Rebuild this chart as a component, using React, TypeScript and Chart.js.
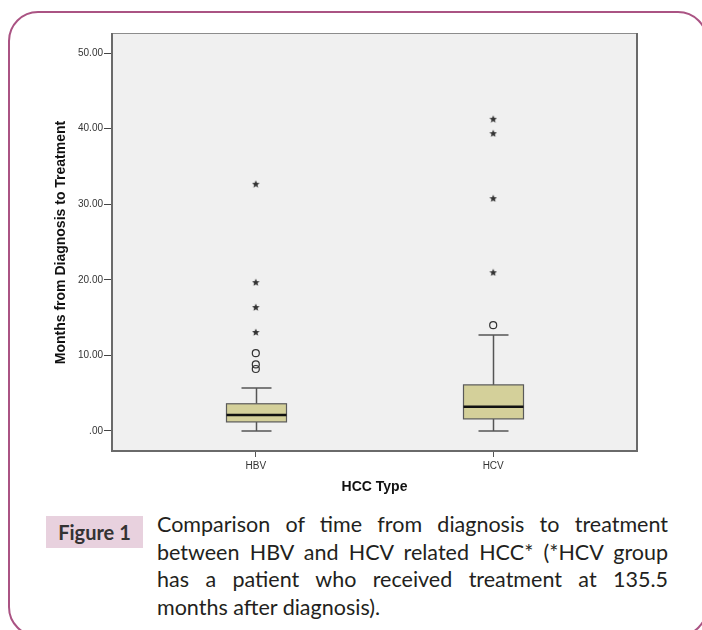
import React, { useEffect, useRef } from 'react';
import { Chart, registerables } from 'chart.js';

Chart.register(...registerables);

const categories = ['HBV', 'HCV'];
const whiskerLow = [0, 0];
const q1 = [1.2, 1.6];
const medians = [2.1, 3.2];
const q3 = [3.6, 6.1];
const whiskerHigh = [5.7, 12.7];
const hbvOutliers = [10.3, 8.8, 8.2];
const hbvExtremes = [32.7, 19.7, 16.4, 13.1];
const hcvOutliers = [14.0];
const hcvExtremes = [41.3, 39.4, 30.8, 21.0];
const yTicks = [0, 10, 20, 30, 40, 50];
const yTitle = 'Months from Diagnosis to Treatment';
const xTitle = 'HCC Type';
const figureLabel = 'Figure 1';
const captionLines = [
  'Comparison of time from diagnosis to treatment',
  'between HBV and HCV related HCC* (*HCV group',
  'has a patient who received treatment at 135.5',
  'months after diagnosis).',
];

function makeStar(size: number, color: string) {
  const c = document.createElement('canvas');
  c.width = size;
  c.height = size;
  const g = c.getContext('2d')!;
  const R = size / 2;
  const r = R * 0.45;
  g.beginPath();
  for (let k = 0; k < 10; k++) {
    const ang = -Math.PI / 2 + (k * Math.PI) / 5;
    const rad = k % 2 === 0 ? R : r;
    g.lineTo(R + rad * Math.cos(ang), R + 0.5 + rad * Math.sin(ang));
  }
  g.closePath();
  g.fillStyle = color;
  g.fill();
  return c;
}

const boxPlugin = {
  id: 'boxes',
  beforeDraw(chart: any) {
    const { ctx, chartArea: a } = chart;
    ctx.save();
    ctx.fillStyle = '#f0f0f0';
    ctx.fillRect(a.left, a.top, a.right - a.left, a.bottom - a.top);
    ctx.restore();
  },
  beforeDatasetsDraw(chart: any) {
    const { ctx, chartArea: a, scales } = chart;
    const x = scales.x;
    const y = scales.y;
    ctx.save();
    ctx.strokeStyle = '#8c8c8c';
    ctx.lineWidth = 1;
    ctx.strokeRect(a.left + 0.5, a.top + 0.5, a.right - a.left - 1, a.bottom - a.top - 1);
    ctx.strokeStyle = '#6a6a6a';
    ctx.lineWidth = 2;
    ctx.beginPath();
    ctx.moveTo(a.left + 1, a.top);
    ctx.lineTo(a.left + 1, a.bottom - 1);
    ctx.lineTo(a.right - 1, a.bottom - 1);
    ctx.lineTo(a.right - 1, a.top);
    ctx.stroke();

    categories.forEach((_, i) => {
      const cx = Math.round(x.getPixelForValue(i)) + 0.5;
      const half = 30;
      const cap = 15;
      const yLo = y.getPixelForValue(whiskerLow[i]);
      const yHi = y.getPixelForValue(whiskerHigh[i]);
      const y1 = y.getPixelForValue(q1[i]);
      const y3 = y.getPixelForValue(q3[i]);
      const ym = y.getPixelForValue(medians[i]);
      ctx.strokeStyle = '#555555';
      ctx.lineWidth = 1.5;
      ctx.beginPath();
      ctx.moveTo(cx, yLo);
      ctx.lineTo(cx, y1);
      ctx.moveTo(cx, y3);
      ctx.lineTo(cx, yHi);
      ctx.moveTo(cx - cap, yLo);
      ctx.lineTo(cx + cap, yLo);
      ctx.moveTo(cx - cap, yHi);
      ctx.lineTo(cx + cap, yHi);
      ctx.stroke();
      ctx.fillStyle = '#d4d09a';
      ctx.fillRect(cx - half, y3, half * 2, y1 - y3);
      ctx.strokeStyle = '#5a5a5a';
      ctx.lineWidth = 1.2;
      ctx.strokeRect(cx - half, y3, half * 2, y1 - y3);
      ctx.strokeStyle = '#111111';
      ctx.lineWidth = 2.5;
      ctx.beginPath();
      ctx.moveTo(cx - half, ym);
      ctx.lineTo(cx + half, ym);
      ctx.stroke();
    });
    ctx.restore();
  },
};

function ChartView() {
  const ref = useRef<HTMLCanvasElement | null>(null);
  useEffect(() => {
    if (!ref.current) return;
    const star = makeStar(8, '#333333');
    const pts = (cat: number, vals: number[]) => vals.map((v) => ({ x: cat, y: v }));
    const circleStyle = {
      pointStyle: 'circle',
      pointRadius: 3.5,
      pointBorderColor: '#333333',
      pointBorderWidth: 1.2,
      pointBackgroundColor: 'rgba(0,0,0,0)',
      showLine: false,
    };
    const starStyle = {
      pointStyle: star,
      pointRadius: 4,
      showLine: false,
    };
    const chart = new Chart(ref.current, {
      type: 'scatter',
      data: {
        datasets: [
          { label: 'HBV outliers', data: pts(0, hbvOutliers), ...circleStyle },
          { label: 'HBV extremes', data: pts(0, hbvExtremes), ...starStyle },
          { label: 'HCV outliers', data: pts(1, hcvOutliers), ...circleStyle },
          { label: 'HCV extremes', data: pts(1, hcvExtremes), ...starStyle },
        ] as any,
      },
      options: {
        animation: false,
        responsive: false,
        devicePixelRatio: 1,
        layout: { padding: { left: 0, top: 33, right: 64, bottom: 0 } },
        plugins: { legend: { display: false }, tooltip: { enabled: false } },
        scales: {
          x: {
            type: 'linear',
            min: -0.61,
            max: 1.61,
            afterBuildTicks: (s: any) => {
              s.ticks = categories.map((_, i) => ({ value: i }));
            },
            afterFit: (s: any) => {
              s.height = 53;
            },
            ticks: {
              autoSkip: false,
              maxRotation: 0,
              padding: 3,
              color: '#333333',
              font: { family: 'Arial, "Liberation Sans", sans-serif', size: 10 },
              callback: (v: any) => categories[v] ?? '',
            },
            grid: { drawOnChartArea: false, drawTicks: true, tickLength: 5, tickColor: '#555555', tickWidth: 1 },
            border: { display: false },
            title: {
              display: true,
              text: xTitle,
              color: '#111111',
              font: { family: 'Arial, "Liberation Sans", sans-serif', size: 14, weight: 'bold' },
              padding: { top: 0, bottom: 9 },
            },
          },
          y: {
            type: 'linear',
            min: -2.78,
            max: 52.65,
            afterBuildTicks: (s: any) => {
              s.ticks = yTicks.map((v) => ({ value: v }));
            },
            afterFit: (s: any) => {
              s.width = 111;
            },
            ticks: {
              padding: 1,
              color: '#333333',
              font: { family: 'Arial, "Liberation Sans", sans-serif', size: 10 },
              callback: (v: any) => (v === 0 ? '.00' : Number(v).toFixed(2)),
            },
            grid: { drawOnChartArea: false, drawTicks: true, tickLength: 7, tickColor: '#444444', tickWidth: 1 },
            border: { display: false },
            title: {
              display: true,
              text: yTitle,
              color: '#111111',
              font: { family: 'Arial, "Liberation Sans", sans-serif', size: 14, weight: 'bold' },
              padding: { top: 53, bottom: 0 },
            },
          },
        },
      } as any,
      plugins: [boxPlugin],
    });
    return () => chart.destroy();
  }, []);
  return (
    <canvas
      ref={ref}
      width={702}
      height={505}
      style={{ position: 'absolute', left: 0, top: 0, width: 702, height: 505 }}
    />
  );
}

export default function App() {
  return (
    <div
      style={{
        position: 'absolute',
        left: 0,
        top: 0,
        width: 702,
        height: 630,
        overflow: 'hidden',
        background: '#ffffff',
      }}
    >
      <div
        style={{
          position: 'absolute',
          left: 8,
          top: 11,
          width: 700,
          height: 626,
          boxSizing: 'border-box',
          border: '2px solid #aa5383',
          borderRadius: 30,
        }}
      />
      <ChartView />
      <div
        style={{
          position: 'absolute',
          left: 46,
          top: 516,
          width: 97,
          height: 32,
          background: '#e8d1de',
          color: '#333333',
          fontFamily: 'Lato, "Open Sans", sans-serif',
          fontWeight: 'bold',
          fontSize: 20,
          lineHeight: '32px',
          textAlign: 'center',
        }}
      >
        {figureLabel}
      </div>
      <div
        style={{
          position: 'absolute',
          left: 157,
          top: 511,
          width: 511,
          color: '#231f20',
          fontFamily: 'Lato, "Open Sans", sans-serif',
          fontSize: 21.5,
          lineHeight: '27.5px',
        }}
      >
        {captionLines.map((line, i) => (
          <div
            key={i}
            style={{
              textAlign: i < captionLines.length - 1 ? 'justify' : 'left',
              textAlignLast: i < captionLines.length - 1 ? 'justify' : 'left',
              whiteSpace: 'nowrap',
            } as any}
          >
            {line}
          </div>
        ))}
      </div>
    </div>
  );
}
